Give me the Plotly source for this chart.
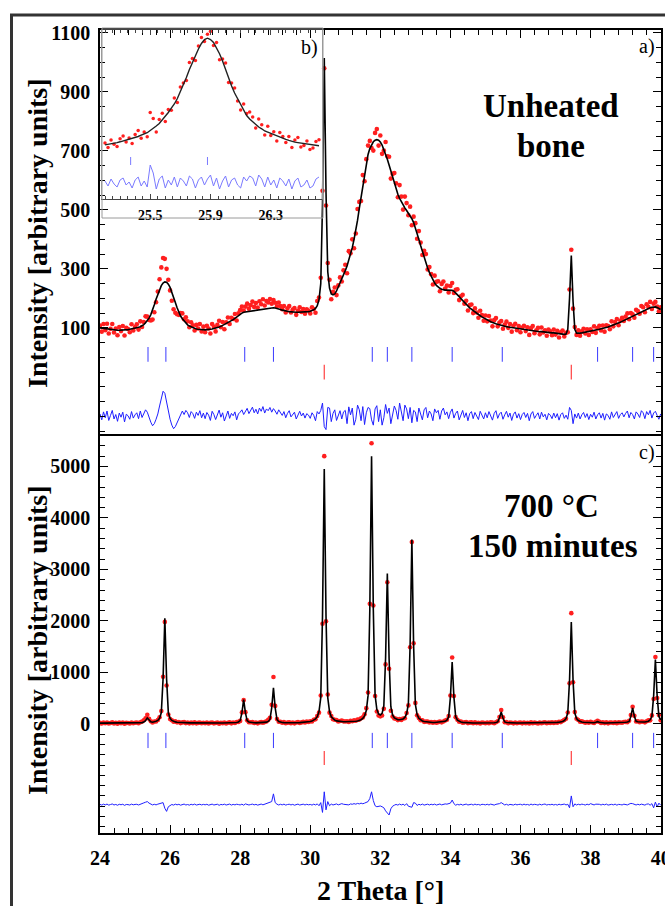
import numpy as np
import plotly.graph_objects as go

# ---------------- data ----------------
TT_START = 24.0     # first 2-theta of the scans
TT_STEP = 0.05      # scan step

# a) unheated bone: calculated profile
unheated_calc = [
    100, 99, 98, 97, 96, 95, 94, 93, 93, 92, 92, 92, 92, 92, 93, 93, 94, 95, 96, 97,
    98, 100, 102, 104, 107, 111, 117, 124, 133, 145, 160, 178, 197, 215, 230, 243, 252, 256, 255, 248,
    237, 222, 205, 186, 168, 152, 140, 131, 123, 116, 110, 106, 103, 100, 98, 96, 95, 94, 93, 93,
    93, 94, 94, 95, 96, 98, 99, 101, 103, 105, 108, 111, 114, 117, 120, 124, 128, 132, 137, 141,
    146, 150, 153, 154, 155, 156, 157, 158, 159, 160, 161, 162, 163, 164, 165, 166, 167, 168, 168, 168,
    167, 166, 164, 162, 160, 158, 157, 156, 155, 154, 154, 153, 153, 153, 153, 153, 153, 154, 154, 155,
    156, 158, 161, 166, 175, 195, 250, 520, 1015, 560, 290, 235, 215, 212, 215, 225, 238, 252, 266, 280,
    294, 310, 328, 348, 372, 400, 430, 465, 505, 545, 585, 625, 660, 688, 708, 722, 731, 736, 738, 736,
    730, 720, 706, 690, 672, 652, 631, 610, 590, 570, 553, 539, 527, 516, 507, 498, 490, 481, 470, 457,
    440, 420, 400, 379, 359, 339, 320, 303, 288, 274, 262, 252, 244, 238, 234, 231, 229, 228, 228, 228,
    228, 227, 224, 219, 213, 206, 199, 192, 186, 180, 174, 168, 163, 158, 153, 149, 145, 141, 137, 133,
    130, 127, 124, 121, 118, 116, 114, 112, 110, 109, 107, 106, 104, 103, 102, 101, 100, 99, 98, 97,
    96, 95, 94, 93, 92, 91, 91, 90, 89, 89, 88, 87, 87, 86, 85, 85, 84, 84, 83, 83,
    82, 81, 80, 79, 79, 78, 79, 95, 200, 345, 190, 95, 82, 81, 82, 83, 84, 85, 86, 87,
    88, 89, 91, 92, 94, 95, 97, 98, 100, 101, 103, 105, 107, 109, 111, 114, 116, 119, 122, 125,
    128, 131, 134, 137, 140, 143, 146, 149, 152, 155, 158, 161, 164, 166, 168, 170, 171, 171, 169, 166,
    162,
]
# a) unheated bone: observed - calculated
unheated_diff = [
    8, -12, 15, -5, 18, -14, 3, 20, -9, 6, -17, 11, -3, 14, -19, 7, 2, -10, 16, -6,
    5, 12, -8, 18, -4, 9, 22, 14, -6, -20, -32, -25, -10, 8, 35, 62, 85, 78, 45, 15,
    -10, -30, -42, -35, -22, -8, 10, 18, 6, 20, 12, -4, 16, 9, -7, 14, 3, 19, -5, 11,
    -8, 13, 4, -14, 17, 6, -11, 9, 21, -3, 12, -16, 5, 18, -7, 10, 2, 15, -12, 8,
    14, 22, 6, 18, 27, 9, 20, 31, 12, 24, 8, 28, 17, 33, 11, 25, 19, 30, 14, 26,
    18, 7, 22, 12, 3, 16, -5, 10, 19, -2, 8, 14, -9, 6, 17, 1, 11, -6, 9, 4,
    -7, 12, 3, -15, 16, 8, 20, 45, -35, -45, 30, 28, -18, 10, 22, -14, 6, 19, -9, 15,
    20, -25, 32, 5, 28, -30, -10, 38, 22, -15, 33, -28, 12, 30, 26, -12, -30, 25, 36, -18,
    22, -30, -5, 40, 10, 28, -25, 12, 35, 20, -10, 45, 18, -15, 38, 25, -8, 30, -22, 20,
    15, -18, 28, 10, -12, 22, 30, -5, 18, 8, -15, 25, 12, 20, -10, 18, 28, 5, 15, -8,
    14, 25, -6, 10, 18, -12, 8, 20, -4, 12, -15, 9, 16, -8, 13, 3, -11, 17, 6, -9,
    12, -5, 16, 4, -13, 10, 19, -7, 8, 14, -10, 5, 17, -3, 11, -14, 7, 15, -6, 9,
    -11, 6, 13, -4, 10, -15, 8, 16, -7, 3, 12, -9, 14, -2, 7, -12, 10, 4, -8, 11,
    -5, 9, -13, 6, 12, -7, 4, -10, 30, 20, -25, 8, -6, 11, -9, 5, 13, -4, 9, -11,
    7, -3, 14, -9, 5, 12, -6, 10, -13, 8, 3, -10, 15, -4, 9, 16, -7, 6, 12, -2,
    10, 18, -5, 13, 6, -9, 15, 8, -4, 19, 12, -8, 16, 5, 20, -6, 11, 17, 3, -10,
    8,
]

# c) 700 C, 150 minutes: calculated profile
heated_calc = [
    15, 15, 15, 15, 15, 15, 15, 15, 15, 15, 15, 15, 15, 15, 15, 15, 15, 15, 15, 15,
    16, 17, 18, 20, 24, 35, 62, 115, 70, 42, 33, 38, 50, 66, 107, 220, 876, 2050, 876, 220,
    107, 66, 48, 38, 32, 28, 25, 23, 22, 21, 20, 19, 19, 18, 18, 17, 17, 17, 16, 16,
    16, 16, 16, 16, 16, 16, 16, 16, 16, 16, 16, 16, 16, 17, 17, 18, 20, 22, 27, 36,
    62, 212, 470, 212, 62, 36, 27, 22, 20, 19, 19, 20, 21, 23, 26, 33, 47, 85, 309, 700,
    309, 85, 47, 33, 26, 23, 21, 20, 19, 19, 19, 20, 21, 22, 24, 26, 29, 32, 35, 39,
    45, 54, 69, 94, 139, 238, 510, 2094, 4950, 2094, 510, 238, 139, 94, 72, 58, 50, 45, 42, 41,
    40, 40, 41, 42, 44, 47, 50, 57, 68, 80, 107, 155, 260, 548, 2211, 5200, 2218, 560, 281, 192,
    171, 203, 351, 1275, 2920, 1270, 334, 173, 116, 92, 81, 80, 82, 95, 124, 192, 388, 1527, 3580, 1524,
    377, 180, 108, 75, 57, 47, 40, 35, 31, 28, 26, 25, 28, 28, 31, 33, 38, 49, 71, 134,
    520, 1200, 520, 140, 72, 48, 36, 29, 25, 23, 21, 20, 19, 18, 18, 17, 17, 17, 17, 17,
    17, 18, 18, 19, 21, 21, 25, 38, 112, 230, 112, 38, 25, 21, 19, 18, 17, 16, 16, 16,
    16, 16, 16, 16, 16, 16, 16, 16, 16, 16, 16, 17, 17, 18, 18, 19, 20, 21, 22, 23,
    25, 28, 32, 37, 47, 65, 104, 213, 847, 1980, 847, 213, 104, 65, 47, 37, 32, 28, 25, 23,
    21, 20, 22, 30, 42, 30, 22, 19, 18, 18, 18, 19, 19, 20, 20, 21, 22, 23, 25, 27,
    30, 36, 47, 145, 310, 145, 51, 41, 36, 35, 35, 37, 42, 52, 78, 144, 543, 1250, 543, 144,
    78,
]
# c) observed - calculated
heated_diff = [
    6, -8, 10, -4, 12, -9, 3, 14, -6, 5, -11, 8, -2, 9, -13, 4, 1, -7, 11, -3,
    5, 8, -6, 12, 20, 35, 48, 60, 30, 10, -5, 8, -4, 10, 22, 30, 40, -70, -130, -40,
    -15, 4, -8, 10, -3, 7, -10, 5, 12, -6, 3, -9, 8, -4, 11, -7, 2, 9, -5, 6,
    -3, 8, -10, 4, 11, -6, 2, 9, -12, 5, -2, 10, -7, 3, 12, -8, 6, -4, 9, 2,
    -5, 10, -10, 15, 8, -6, 3, 11, -4, 7, -9, 5, 12, -3, 8, 15, 30, 35, 60, 210,
    40, 10, -6, 8, -4, 11, -8, 3, 9, -5, 6, -10, 4, 12, -7, 2, 10, -6, 8, -3,
    5, -8, 10, -5, 15, -20, 40, -150, 250, -100, 60, -20, 12, -6, 9, 15, -4, 10, 20, 8,
    6, 12, -4, 15, 8, 20, 10, 25, 15, 30, 18, 30, 45, 60, 120, 250, 80, -20, -40, -30,
    -25, -40, -60, -120, -170, -200, -80, -30, -10, 5, -8, 12, -5, 10, -15, 20, -30, -40, -50, 40,
    30, -15, 8, -5, 12, -8, 4, 10, -6, 9, -3, 11, -7, 5, 13, -4, 8, 15, 10, 20,
    30, 90, 20, -10, 6, -5, 10, -8, 4, 12, -6, 3, 9, -7, 11, -2, 5, -9, 8, 4,
    -4, 9, -6, 11, 3, -8, 7, 12, 20, 40, 15, -5, 8, -10, 6, 3, -7, 10, -4, 5,
    8, -6, 11, -3, 5, -9, 12, -4, 7, 2, -8, 10, -5, 6, 13, -7, 4, -2, 9, -6,
    5, -8, 10, -3, 7, 12, -5, 8, -60, 170, -40, 15, -6, 9, -4, 11, 3, -7, 10, -2,
    20, 6, -5, 10, 15, 8, -6, 9, -3, 12, -8, 5, 7, -4, 11, -9, 6, 2, -5, 10,
    8, -5, 12, 25, 20, 10, -6, 9, -4, 11, 5, -8, 10, 15, -10, 20, -60, 50, -40, 30,
    -10,
]

# reflection markers
apatite_reflections = [25.37, 25.88, 28.13, 28.95, 31.77, 32.20, 32.90, 34.05, 35.48, 38.20, 39.20, 39.80]
second_phase_reflections = [30.40, 37.45]

# b) inset: detail of the (002) reflection
INSET_START = 25.20
INSET_STEP = 0.02
inset_calc = [
    54.1, 54.5, 55.0, 55.8, 56.4, 57.2, 58.0, 58.9, 59.9, 60.5,
    61.4, 62.5, 63.8, 65.0, 66.3, 68.5, 70.5, 73.0, 75.5, 78.8,
    82.5, 86.5, 90.8, 95.0, 100.5, 107.0, 114.0, 121.5, 129.5, 136.5,
    143.5, 150.0, 155.5, 159.5, 160.8, 159.5, 156.5, 151.5, 145.3, 138.0,
    129.0, 120.5, 113.0, 106.0, 100.0, 94.0, 89.0, 83.5, 80.0, 77.0,
    74.0, 72.0, 70.2, 68.0, 66.8, 65.5, 64.2, 63.0, 61.6, 60.6,
    59.6, 58.6, 57.4, 56.9, 56.4, 55.9, 55.4, 54.9, 54.5, 54.0,
    53.6, 53.3,
]
inset_diff = [
    2, -3, 4, -1, -4, 3, 5, -2, 1, -5,
    3, 6, -3, 2, -4, 18, 10, -6, 4, 7,
    -5, 3, -2, 6, -4, 5, 2, -3, 7, 4,
    -5, 3, 6, -2, 4, 8, -3, 5, -6, 2,
    7, -4, 3, 5, -2, -5, 6, 2, 7, 5,
    -3, 8, 4, -4, 6, -2, 3, -5, 5, 2,
    -3, 4, -6, 2, 5, -4, -2, 3, -5, -3,
    4, 6,
]
inset_reflections = [25.37, 25.88]

# tick labels
x_ticks = [24, 26, 28, 30, 32, 34, 36, 38, 40]
top_y_ticks = [100, 300, 500, 700, 900, 1100]
bottom_y_ticks = [0, 1000, 2000, 3000, 4000, 5000]
inset_x_ticks = [25.5, 25.9, 26.3]

# ---------------- derived ----------------
assert len(unheated_calc) == len(unheated_diff) == len(heated_calc) == len(heated_diff) == 321
assert len(inset_calc) == len(inset_diff) == 72
tt = np.round(TT_START + TT_STEP * np.arange(len(unheated_calc)), 3)
tt_in = np.round(INSET_START + INSET_STEP * np.arange(len(inset_calc)), 3)
u_calc = np.array(unheated_calc, float); u_obs = u_calc + np.array(unheated_diff, float)
h_calc = np.array(heated_calc, float); h_obs = h_calc + np.array(heated_diff, float)
i_calc = np.array(inset_calc, float); i_obs = i_calc + np.array(inset_diff, float)

# layout geometry (pixels)
W, H = 665, 906
ML, MR, MT, MB = 100, 4, 30, 73
PW, PH = W - ML - MR, H - MT - MB
def px(x):  # pixel -> paper x
    return (x - ML) / PW
def py(y):  # pixel -> paper y
    return (H - MB - y) / PH

SPLIT = py(434)

RED = "#ff1f1f"
BLUE = "#1f1fff"
FONT = "Liberation Serif"

def segs(pos, y0, y1):
    xs, ys = [], []
    for p in pos:
        xs += [p, p, None]
        ys += [y0, y1, None]
    return xs, ys

fig = go.Figure()

# ---- top panel (a) ----
fig.add_trace(go.Scatter(x=tt, y=u_obs, mode="markers", marker=dict(color=RED, size=4.6),
                         xaxis="x", yaxis="y", showlegend=False))
fig.add_trace(go.Scatter(x=tt, y=u_calc, mode="lines", line=dict(color="black", width=1.6),
                         xaxis="x", yaxis="y", showlegend=False))
fig.add_trace(go.Scatter(x=tt, y=np.array(unheated_diff, float) - 200, mode="lines",
                         line=dict(color=BLUE, width=1), xaxis="x", yaxis="y", showlegend=False))
xs, ys = segs(apatite_reflections, -15, 35)
fig.add_trace(go.Scatter(x=xs, y=ys, mode="lines", line=dict(color="#3a3aff", width=1),
                         xaxis="x", yaxis="y", showlegend=False))
xs, ys = segs(second_phase_reflections, -75, -25)
fig.add_trace(go.Scatter(x=xs, y=ys, mode="lines", line=dict(color="#ff4040", width=1.2),
                         xaxis="x", yaxis="y", showlegend=False))

# ---- bottom panel (c) ----
fig.add_trace(go.Scatter(x=tt, y=h_obs, mode="markers", marker=dict(color=RED, size=4.6),
                         xaxis="x2", yaxis="y2", showlegend=False))
fig.add_trace(go.Scatter(x=tt, y=h_calc, mode="lines", line=dict(color="black", width=1.6),
                         xaxis="x2", yaxis="y2", showlegend=False))
fig.add_trace(go.Scatter(x=tt, y=np.array(heated_diff, float) - 1570, mode="lines",
                         line=dict(color=BLUE, width=1), xaxis="x2", yaxis="y2", showlegend=False))
xs, ys = segs(apatite_reflections, -470, -175)
fig.add_trace(go.Scatter(x=xs, y=ys, mode="lines", line=dict(color="#3a3aff", width=1),
                         xaxis="x2", yaxis="y2", showlegend=False))
xs, ys = segs(second_phase_reflections, -800, -525)
fig.add_trace(go.Scatter(x=xs, y=ys, mode="lines", line=dict(color="#ff4040", width=1.2),
                         xaxis="x2", yaxis="y2", showlegend=False))

# ---- inset (b) ----
fig.add_trace(go.Scatter(x=tt_in, y=i_obs, mode="markers", marker=dict(color=RED, size=3.5),
                         xaxis="x3", yaxis="y3", showlegend=False))
fig.add_trace(go.Scatter(x=tt_in, y=i_calc, mode="lines", line=dict(color="#222222", width=1.4),
                         xaxis="x3", yaxis="y3", showlegend=False))
fig.add_trace(go.Scatter(x=tt_in, y=np.array(inset_diff, float) + 16, mode="lines",
                         line=dict(color="#7a7aff", width=1), xaxis="x3", yaxis="y3", showlegend=False))
xs, ys = segs(inset_reflections, 34, 42)
fig.add_trace(go.Scatter(x=xs, y=ys, mode="lines", line=dict(color="#7a7aff", width=1),
                         xaxis="x3", yaxis="y3", showlegend=False))

tickfont = dict(family=FONT, size=20, color="black", weight="bold")
common_x = dict(range=[24, 40.01], showline=True, linecolor="black", linewidth=1.5,
                ticks="inside", ticklen=8, tickwidth=1.2, tickcolor="black",
                tickvals=x_ticks, showgrid=False, zeroline=False, automargin=False,
                minor=dict(ticks="inside", ticklen=5, tickwidth=1, tickcolor="black",
                           tickmode="linear", tick0=24, dtick=0.4, showgrid=False))

fig.update_layout(
    width=W, height=H, autosize=False,
    margin=dict(l=ML, r=MR, t=MT, b=MB, autoexpand=False),
    paper_bgcolor="white", plot_bgcolor="rgba(0,0,0,0)",
    xaxis=dict(**common_x, domain=[0, 1], anchor="y", side="top", mirror=True,
               showticklabels=False),
    yaxis=dict(domain=[SPLIT, 1], anchor="x", range=[-260, 1110], showline=True,
               linecolor="black", linewidth=1.5, mirror="ticks", automargin=False,
               ticks="inside", ticklen=8, tickwidth=1.2, tickcolor="black",
               tickvals=top_y_ticks, tickfont=tickfont, ticklabelstandoff=4,
               showgrid=False, zeroline=False,
               minor=dict(ticks="inside", ticklen=5, tickwidth=1, tickcolor="black",
                          tickmode="linear", tick0=0, dtick=50, showgrid=False)),
    xaxis2=dict(**common_x, domain=[0, 1], anchor="y2", side="bottom", mirror=False,
                tickfont=tickfont, ticklabelstandoff=6, ticklabeloverflow="allow"),
    yaxis2=dict(domain=[0, SPLIT], anchor="x2", range=[-2120, 5630], showline=True,
                linecolor="black", linewidth=1.5, mirror="ticks", automargin=False,
                ticks="inside", ticklen=8, tickwidth=1.2, tickcolor="black",
                tickvals=bottom_y_ticks, tickfont=tickfont, ticklabelstandoff=4,
                showgrid=False, zeroline=False,
                minor=dict(ticks="inside", ticklen=5, tickwidth=1, tickcolor="black",
                           tickmode="linear", tick0=0, dtick=200, showgrid=False)),
    xaxis3=dict(domain=[px(102), px(322)], anchor="y3", range=[25.18, 26.64],
                showline=True, linecolor="#444444", linewidth=1.2, mirror="ticks",
                ticks="inside", ticklen=5, tickwidth=1, tickcolor="#444444",
                tickvals=inset_x_ticks, tickformat=".1f", automargin=False,
                tickfont=dict(family=FONT, size=14, color="black", weight="bold"),
                ticklabelstandoff=3, showgrid=False, zeroline=False,
                minor=dict(ticks="inside", ticklen=3, tickwidth=1, tickcolor="#444444",
                           tickmode="linear", tick0=25.2, dtick=0.05, showgrid=False)),
    yaxis3=dict(domain=[py(199), 1], anchor="x3", range=[0, 169], showline=True,
                linecolor="#999999", linewidth=1, mirror=True, showticklabels=False,
                ticks="", showgrid=False, zeroline=False, automargin=False),
)

ann = []
def add_text(text, x, y, size, bold=True, angle=0, xanchor="center"):
    ann.append(dict(text=text, x=x, y=y, xref="paper", yref="paper", showarrow=False,
                    xanchor=xanchor, yanchor="middle", textangle=angle,
                    font=dict(family=FONT, size=size, color="black",
                              weight="bold" if bold else "normal")))

add_text("Unheated", px(551), py(106), 33)
add_text("bone", px(551), py(146), 33)
add_text("700 °C", px(551), py(506), 33)
add_text("150 minutes", px(553), py(546), 33)
add_text("a)", px(647), py(47), 20, bold=False)
add_text("b)", px(309), py(48), 20, bold=False)
add_text("c)", px(647), py(452), 20, bold=False)
add_text("Intensity [arbitrary units]", px(37), py(233), 28, angle=-90)
add_text("Intensity [arbitrary units]", px(37), py(640), 28, angle=-90)
add_text("2 Theta [°]", 0.5, py(890), 28)
fig.update_layout(annotations=ann)

fig.update_layout(shapes=[
    # inset frame
    dict(type="rect", xref="paper", yref="paper", x0=px(102), x1=px(323), y0=py(218), y1=py(28),
         line=dict(color="#9a9a9a", width=1), fillcolor="rgba(0,0,0,0)", layer="above"),
    # outer figure border
    dict(type="rect", xref="paper", yref="paper", x0=px(11.5), x1=px(700), y0=py(960), y1=py(15),
         line=dict(color="#333333", width=3), fillcolor="rgba(0,0,0,0)", layer="above"),
])

fig.write_html("out.html")
